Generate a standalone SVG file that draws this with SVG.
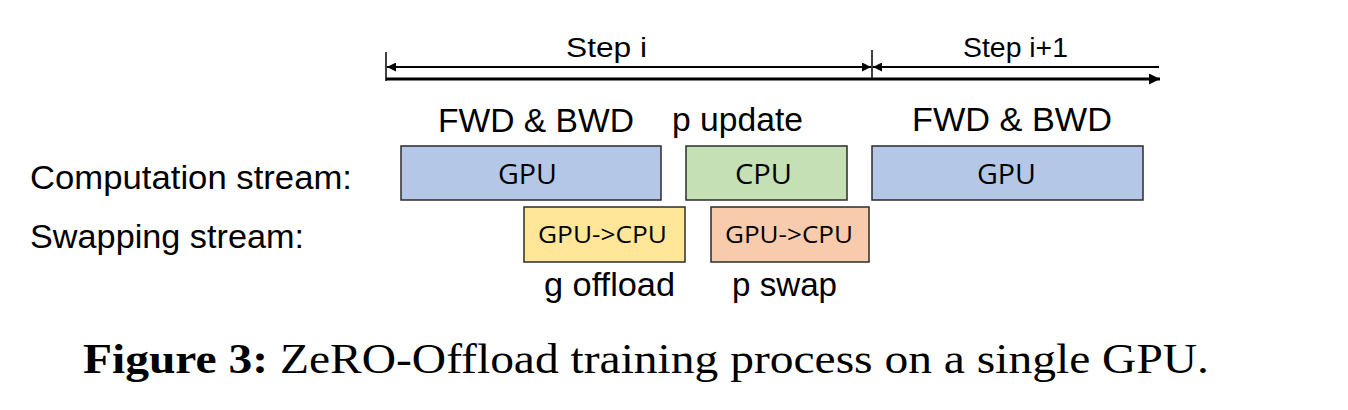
<svg xmlns="http://www.w3.org/2000/svg" width="1348" height="410" viewBox="0 0 1348 410">
<defs>
<marker id="ah" viewBox="0 0 10 10" refX="10" refY="5" markerWidth="10" markerHeight="9" orient="auto-start-reverse" markerUnits="userSpaceOnUse"><path d="M0,0 L10,5 L0,10 z" fill="#000"/></marker>
<marker id="ahb" viewBox="0 0 10 10" refX="10" refY="5" markerWidth="13" markerHeight="11" orient="auto" markerUnits="userSpaceOnUse"><path d="M0,0 L10,5 L0,10 z" fill="#000"/></marker>
</defs>
<style>
.lbl{font-family:"Liberation Sans",Arial,sans-serif;font-size:33px;fill:#000}
.step{font-family:"Liberation Sans",Arial,sans-serif;font-size:27px;fill:#000}
.box{stroke:#2b2b2b;stroke-width:1.5}
.bt{font-family:"Open Sans","Noto Sans",sans-serif;fill:#000}
.ln{stroke:#000;fill:none}
</style>
<rect width="1348" height="410" fill="#fff"/>
<g id="connectors">
<line class="ln" x1="386" y1="52" x2="386" y2="81" stroke-width="1.5"/>
<line class="ln" x1="872" y1="50" x2="872" y2="79" stroke-width="1.5"/>
<line class="ln" x1="387" y1="67" x2="871" y2="67" stroke-width="2" marker-start="url(#ah)" marker-end="url(#ah)"/>
<line class="ln" x1="873" y1="67" x2="1159" y2="67" stroke-width="2" marker-start="url(#ah)"/>
<line class="ln" x1="386" y1="79" x2="1160" y2="79" stroke-width="3" marker-end="url(#ahb)"/>
</g>
<g id="step-labels">
<text class="step" x="566" y="57" textLength="81" lengthAdjust="spacingAndGlyphs">Step i</text>
<text class="step" x="963" y="57" textLength="105" lengthAdjust="spacingAndGlyphs">Step i+1</text>
</g>
<g id="row-labels">
<text class="lbl" x="30" y="189" textLength="322" lengthAdjust="spacingAndGlyphs">Computation stream:</text>
<text class="lbl" x="30" y="248" textLength="274" lengthAdjust="spacingAndGlyphs">Swapping stream:</text>
</g>
<g id="gpu1">
<text class="lbl" x="438" y="132" textLength="196" lengthAdjust="spacingAndGlyphs">FWD &amp; BWD</text>
<rect class="box" x="401" y="146" width="260" height="54" fill="#B4C7E7"/>
<text class="bt" x="498" y="184" font-size="28" textLength="59" lengthAdjust="spacingAndGlyphs">GPU</text>
</g>
<g id="cpu">
<text class="lbl" x="672" y="131" textLength="131" lengthAdjust="spacingAndGlyphs">p update</text>
<rect class="box" x="686" y="146" width="161" height="54" fill="#C5E0B4"/>
<text class="bt" x="735" y="184" font-size="28" textLength="57" lengthAdjust="spacingAndGlyphs">CPU</text>
</g>
<g id="gpu2">
<text class="lbl" x="912" y="131" textLength="200" lengthAdjust="spacingAndGlyphs">FWD &amp; BWD</text>
<rect class="box" x="872" y="146" width="271" height="54" fill="#B4C7E7"/>
<text class="bt" x="977" y="184" font-size="28" textLength="59" lengthAdjust="spacingAndGlyphs">GPU</text>
</g>
<g id="g-offload">
<rect class="box" x="524" y="207" width="161" height="55" fill="#FFE699"/>
<text class="bt" x="538" y="243" font-size="23" textLength="129" lengthAdjust="spacingAndGlyphs">GPU-&gt;CPU</text>
<text class="lbl" x="544" y="296" textLength="131" lengthAdjust="spacingAndGlyphs">g offload</text>
</g>
<g id="p-swap">
<rect class="box" x="711" y="207" width="158" height="55" fill="#F8CBAD"/>
<text class="bt" x="725" y="243" font-size="23" textLength="128" lengthAdjust="spacingAndGlyphs">GPU-&gt;CPU</text>
<text class="lbl" x="732" y="296" textLength="105" lengthAdjust="spacingAndGlyphs">p swap</text>
</g>
<g id="caption">
<text x="83" y="373" font-family="'Liberation Serif','Times New Roman',serif" font-size="42" textLength="1126" lengthAdjust="spacingAndGlyphs"><tspan font-weight="bold">Figure 3:</tspan> ZeRO-Offload training process on a single GPU.</text>
</g>
</svg>
